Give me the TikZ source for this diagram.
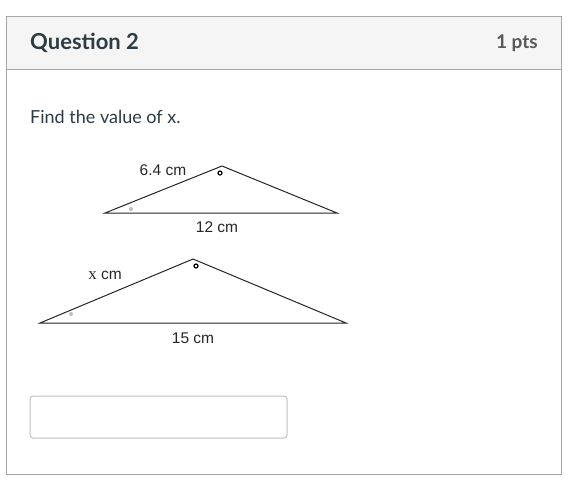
\documentclass[tikz,border=0pt]{standalone}
\usepackage{fontspec}
\setmainfont{Lato}
\newfontfamily\arialfont{Liberation Sans}
\newfontfamily\timesfont{Liberation Serif}
\begin{document}
\begin{tikzpicture}[x=1pt,y=-1pt,
  frame/.style={draw=black!35,line width=1pt},
  tri/.style={draw=black!85,line width=1pt,line join=miter},
  lbl/.style={font=\arialfont\fontsize{15.5}{18}\selectfont,text=black!85,inner sep=0pt},
  anglemark/.style={draw=black,line width=1.2pt,circle,inner sep=0pt,minimum size=4pt},
  gdot/.style={fill=black!25,circle,inner sep=0pt,minimum size=4pt}]
\useasboundingbox (0,0) rectangle (581,488);
\fill[white] (0,0) rectangle (581,488);
% card
\fill[black!4] (6,16) rectangle (561,69);
\draw[frame] (6,16) rectangle (561,474);
\draw[frame] (6,69) -- (561,69);
\node[anchor=west,font=\fontsize{22}{26}\bfseries\selectfont,text={rgb,255:red,45;green,59;blue,69},inner sep=0pt] (q) at (30,43) {Question 2};
\node[anchor=east,font=\fontsize{19}{23}\bfseries\selectfont,text=black!65,inner sep=0pt] (pts) at (538,43) {1 pts};
\node[anchor=west,font=\fontsize{18}{22}\selectfont,text={rgb,255:red,45;green,59;blue,69},inner sep=0pt] (find) at (30,117) {Find the value of x.};
% triangle 1
\coordinate (a1) at (105,213);
\coordinate (b1) at (222,166);
\coordinate (c1) at (337,213);
\draw[tri] (a1) -- (b1) -- (c1) -- cycle;
\node[anglemark] (m1) at (220,173) {};
\node[gdot] (g1) at (131,209) {};
\node[lbl] (l1) at (163,170) {6.4 cm};
\node[lbl] (l2) at (217,227) {12 cm};
% triangle 2
\coordinate (a2) at (40,323);
\coordinate (b2) at (193,259);
\coordinate (c2) at (346,323);
\draw[tri] (a2) -- (b2) -- (c2) -- cycle;
\node[anglemark] (m2) at (196,266) {};
\node[gdot] (g2) at (71,314) {};
\node[lbl] (l3) at (105,275) {{\timesfont\fontsize{17}{18}\selectfont x} cm};
\node[lbl] (l4) at (193,338) {15 cm};
% answer box
\draw[draw=black!25,line width=1pt,rounded corners=3pt] (30,396) rectangle (287,438);
\end{tikzpicture}
\end{document}
